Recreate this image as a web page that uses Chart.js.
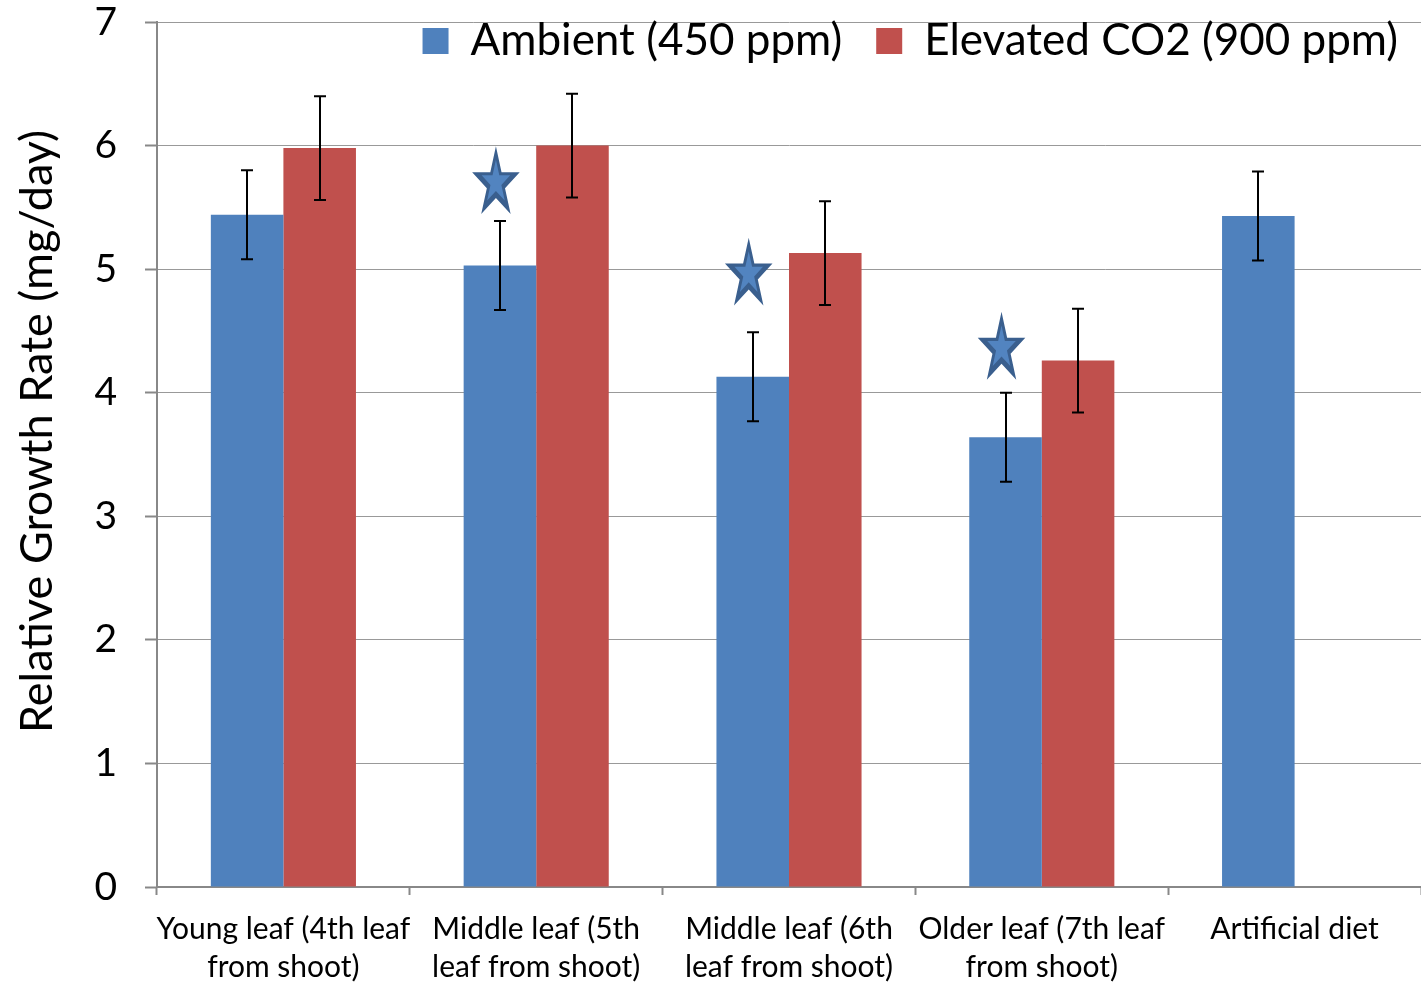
<!DOCTYPE html>
<html lang="en">
<head>
    <meta charset="UTF-8" />
    <title>Relative Growth Rate</title>
    <script src="https://cdn.jsdelivr.net/npm/chart.js"></script>
    <style>
        html, body { margin: 0; padding: 0; background: #fff; }
        #growthChart { display: block; }
    </style>
</head>
<body>

<canvas id="growthChart" width="1421" height="985"></canvas>

<script>
// Data
const categories = [
    ["Young leaf (4th leaf", "from shoot)"],
    ["Middle leaf (5th", "leaf from shoot)"],
    ["Middle leaf (6th", "leaf from shoot)"],
    ["Older leaf (7th leaf", "from shoot)"],
    "Artificial diet"
];
const ambientLabel = "Ambient (450 ppm)";
const elevatedLabel = "Elevated CO2 (900 ppm)";
const ambientValues = [5.44, 5.03, 4.13, 3.64, 5.43];
const ambientErrors = [0.36, 0.36, 0.36, 0.36, 0.36];
const elevatedValues = [5.98, 6.00, 5.13, 4.26, null];
const elevatedErrors = [0.42, 0.42, 0.42, 0.42, null];
// significance stars, drawn above the ambient bar
const starValues = [null, 5.72, 4.98, 4.38, null];
const yTicks = [0, 1, 2, 3, 4, 5, 6, 7];
const yTitle = "Relative Growth Rate (mg/day)";

const FONT = "Lato, 'Open Sans', sans-serif";

// error bars with caps
const errorBars = {
    id: 'errorBars',
    afterDatasetsDraw(chart) {
        const ctx = chart.ctx;
        const y = chart.scales.y;
        const errs = [ambientErrors, elevatedErrors];
        ctx.save();
        ctx.strokeStyle = '#000';
        ctx.lineWidth = 2;
        chart.data.datasets.forEach((ds, i) => {
            const meta = chart.getDatasetMeta(i);
            meta.data.forEach((bar, j) => {
                const v = ds.data[j], e = errs[i][j];
                if (v == null || e == null) return;
                const x = Math.round(bar.x);
                const top = y.getPixelForValue(v + e);
                const bot = y.getPixelForValue(v - e);
                ctx.beginPath();
                ctx.moveTo(x, top); ctx.lineTo(x, bot);
                ctx.moveTo(x - 6, top); ctx.lineTo(x + 6, top);
                ctx.moveTo(x - 6, bot); ctx.lineTo(x + 6, bot);
                ctx.stroke();
            });
        });
        ctx.restore();
    }
};

function starPath(ctx, cx, cy, r, sy) {
    // origin shifted so the bounding box is centred on (cx, cy)
    const oy = cy + 0.0955 * r * sy;
    ctx.beginPath();
    for (let k = 0; k < 10; k++) {
        const a = -Math.PI / 2 + k * Math.PI / 5;
        const rr = k % 2 === 0 ? r : r * 0.382;
        const px = cx + rr * Math.cos(a);
        const py = oy + rr * Math.sin(a) * sy;
        if (k === 0) ctx.moveTo(px, py); else ctx.lineTo(px, py);
    }
    ctx.closePath();
}

const stars = {
    id: 'stars',
    afterDatasetsDraw(chart) {
        const ctx = chart.ctx;
        const y = chart.scales.y;
        const meta = chart.getDatasetMeta(0);
        ctx.save();
        starValues.forEach((v, j) => {
            if (v == null) return;
            const cx = meta.data[j].x - 4;
            const cy = y.getPixelForValue(v);
            starPath(ctx, cx, cy, 25, 1.5);
            ctx.fillStyle = '#3A5F8E';
            ctx.fill();
            starPath(ctx, cx, cy, 15, 1.5);
            ctx.fillStyle = '#5284C0';
            ctx.fill();
        });
        ctx.restore();
    }
};

// legend sits inside the plot area, top right
const legendInside = {
    id: 'legendInside',
    beforeLayout(chart) {
        const lg = chart.legend;
        if (lg && !lg._patched) {
            const fit = lg.fit;
            lg.fit = function () { fit.call(this); this.height = 0; };
            lg._patched = true;
        }
    },
    afterLayout(chart) {
        const lg = chart.legend;
        lg.top = -15;
        lg.bottom = 120;
        lg.left = 0;
        lg.right = 1432;
    }
};

const ctx = document.getElementById('growthChart').getContext('2d');
new Chart(ctx, {
    type: 'bar',
    data: {
        labels: categories,
        datasets: [
            {
                label: ambientLabel,
                data: ambientValues,
                backgroundColor: '#4F81BD',
                categoryPercentage: 0.574,
                barPercentage: 1.0
            },
            {
                label: elevatedLabel,
                data: elevatedValues,
                backgroundColor: '#C0504D',
                categoryPercentage: 0.574,
                barPercentage: 1.0
            }
        ]
    },
    options: {
        responsive: false,
        animation: false,
        // plot runs slightly past the right edge, as in the original
        layout: { padding: { top: 22, right: -4, left: 0, bottom: 0 } },
        plugins: {
            tooltip: { enabled: false },
            legend: {
                position: 'top',
                align: 'end',
                labels: {
                    color: '#000',
                    font: { family: FONT, size: 44 },
                    boxWidth: 26,
                    boxHeight: 26,
                    padding: 34
                }
            }
        },
        scales: {
            x: {
                grid: {
                    offset: true,
                    drawOnChartArea: false,
                    drawTicks: true,
                    tickLength: 8,
                    tickColor: '#888',
                    tickWidth: 2
                },
                border: { display: true, color: '#888', width: 2 },
                ticks: {
                    color: '#000',
                    font: { family: FONT, size: 30, lineHeight: 1.27 },
                    maxRotation: 0,
                    autoSkip: false,
                    padding: 15
                },
                afterFit(scale) { scale.height = 98; scale.paddingLeft = 0; scale.paddingRight = 0; }
            },
            y: {
                min: 0,
                max: 7,
                afterBuildTicks(scale) { scale.ticks = yTicks.map(v => ({ value: v })); },
                grid: {
                    color: '#999',
                    lineWidth: 1,
                    borderDash: [1, 2],
                    tickLength: 12,
                    tickColor: '#888',
                    tickWidth: 2,
                    tickBorderDash: []
                },
                border: { display: true, color: '#888', width: 2 },
                ticks: {
                    color: '#000',
                    font: { family: FONT, size: 39 },
                    padding: 28
                },
                title: {
                    display: true,
                    // leading spaces lift the title a little above the axis centre
                    text: '    ' + yTitle,
                    color: '#000',
                    font: { family: FONT, size: 45 },
                    padding: { top: 10, bottom: 0 }
                },
                afterFit(scale) { scale.width = 157; scale.paddingTop = 0; scale.paddingBottom = 0; }
            }
        }
    },
    plugins: [legendInside, errorBars, stars]
});
</script>

</body>
</html>
